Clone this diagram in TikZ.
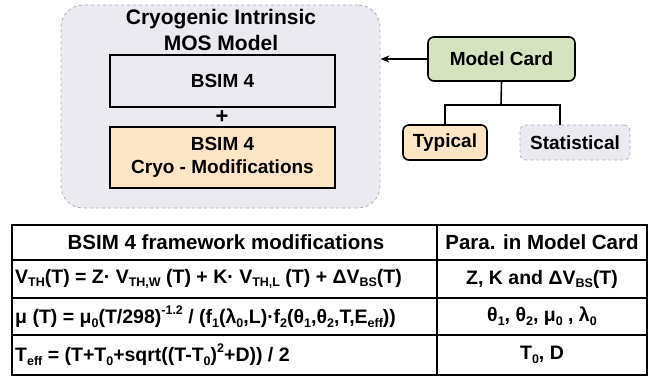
\documentclass[tikz,border=0pt]{standalone}
\usepackage{fontspec}
\setmainfont{Liberation Sans}
\usepackage{tikz}
\usetikzlibrary{positioning, arrows.meta}

\definecolor{lavbg}{HTML}{ECEAF1}
\definecolor{peach}{HTML}{FDE6C6}
\definecolor{cardgreen}{HTML}{D5E4BE}
\definecolor{dashgray}{HTML}{ABABAB}

% small raised / lowered indices
\newcommand{\sub}[1]{\raisebox{-0.35ex}{\fontsize{12.5}{12.5}\selectfont #1}}
\newcommand{\sups}[1]{\raisebox{0.9ex}{\fontsize{12.5}{12.5}\selectfont #1}}

\tikzset{
  boxfont/.style={font=\fontsize{19}{23}\selectfont\bfseries},
  blockbox/.style={draw, line width=1.6pt, boxfont, align=center, inner sep=0pt},
  cardbox/.style={blockbox, rounded corners=6pt},
  softbox/.style={draw=dashgray, dashed, line width=0.8pt, fill=lavbg, rounded corners=6pt, boxfont, inner sep=0pt},
  tabtext/.style={font=\fontsize{19.5}{22}\selectfont\bfseries, inner sep=0pt},
  tabhead/.style={font=\fontsize{20.5}{22}\selectfont\bfseries, inner sep=0pt}
}

\begin{document}
\begin{tikzpicture}[>={Stealth[length=9pt,width=7pt]}, x=1pt, y=-1pt]
  \useasboundingbox (0,0) rectangle (667,377);
  % intrinsic model block
  \node[draw=dashgray, dashed, line width=0.8pt, fill=lavbg, rounded corners=22pt,
        minimum width=319pt, minimum height=203pt] (mos) at (220.5,106.5) {};
  \node[font=\fontsize{21}{26}\selectfont\bfseries, align=center] (title) at (221,30)
    {Cryogenic Intrinsic\\MOS Model};
  \node[blockbox, minimum width=225pt, minimum height=52pt] (bsim) at (222.5,81) {BSIM 4};
  \node[font=\fontsize{22}{24}\selectfont\bfseries] (plus) at (222,117) {+};
  \node[blockbox, fill=peach, minimum width=225pt, minimum height=61pt] (cryo) at (222.5,157.5)
    {BSIM 4\\Cryo - Modifications};
  % model card tree
  \node[cardbox, fill=cardgreen, minimum width=147pt, minimum height=44pt] (card) at (501.5,59) {Model Card};
  \node[cardbox, fill=peach, minimum width=84pt, minimum height=35pt] (typ) at (445,142.5) {Typical};
  \node[softbox, minimum width=110pt, minimum height=35pt] (stat) at (575,142.5) {Statistical};
  \coordinate (split) at (501,105);
  \draw[->, line width=1.6pt] (card.west) -- (card.west -| mos.east);
  \draw[line width=1.6pt] (card.south) -- (split);
  \draw[line width=1.6pt] (typ.north) |- (split) -| ([xshift=-15pt]stat.north);
  % parameter table
  \draw[line width=2.2pt] (12,225) rectangle (647,375);
  \foreach \y in {260,298,335}
    \draw[line width=1.9pt] (12,\y) -- (647,\y);
  \draw[line width=2.4pt] (437,225) -- (437,375);
  \node[tabhead] (h1) at (226,242.5) {BSIM 4 framework modifications};
  \node[tabhead] (h2) at (542,242.5) {Para. in Model Card};
  \node[tabtext, anchor=west] (eqvth) at (15,279)
    {V\sub{TH}(T) = Z· V\sub{TH,W} (T) + K· V\sub{TH,L} (T) + ΔV\sub{BS}(T)};
  \node[tabtext, anchor=west] (eqmu) at (15,316.5)
    {μ (T) = μ\sub{0}(T/298)\sups{-1.2} / (f\sub{1}(λ\sub{0},L)·f\sub{2}(θ\sub{1},θ\sub{2},T,E\sub{eff}))};
  \node[tabtext, anchor=west] (eqteff) at (15,355)
    {T\sub{eff} = (T+T\sub{0}+sqrt((T-T\sub{0})\sups{2}+D)) / 2};
  \node[tabtext] (pvth) at (542,279) {Z, K and ΔV\sub{BS}(T)};
  \node[tabtext] (pmu) at (542,316.5) {θ\sub{1}, θ\sub{2}, μ\sub{0} , λ\sub{0}};
  \node[tabtext] (pteff) at (542,355) {T\sub{0}, D};
\end{tikzpicture}
\end{document}
